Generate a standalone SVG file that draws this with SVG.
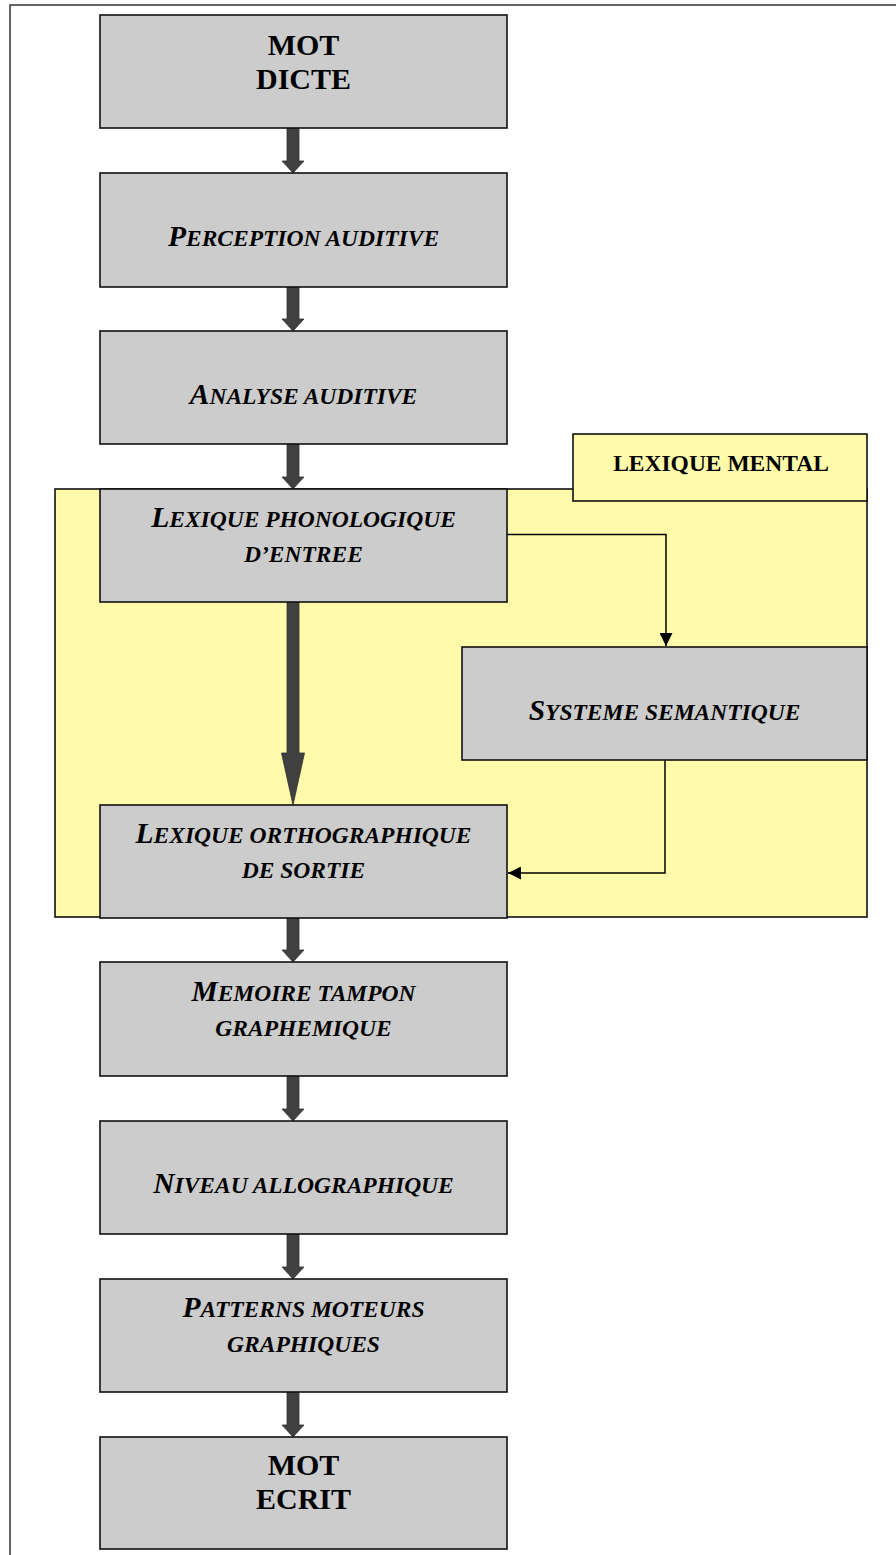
<svg xmlns="http://www.w3.org/2000/svg" width="896" height="1555" viewBox="0 0 896 1555">
<defs>
<style>
.frame{fill:none;stroke:#333;stroke-width:1.5}
.box{fill:#cccccc;stroke:#111;stroke-width:1.6}
.ybox{fill:#fffbaa;stroke:#111;stroke-width:1.6}
.big{font-family:"Liberation Serif","Times New Roman",serif;font-weight:bold;font-size:30px;fill:#000;text-anchor:middle}
.lab{font-family:"Liberation Serif","Times New Roman",serif;font-weight:bold;font-style:italic;font-size:23.5px;fill:#000;text-anchor:middle}
.cap{font-size:29.5px}
.mental{font-family:"Liberation Serif","Times New Roman",serif;font-weight:bold;font-size:23.5px;fill:#000;text-anchor:middle}
.fat{fill:#404040;stroke:#333;stroke-width:0.8}
.thin{fill:none;stroke:#000;stroke-width:1.5}
</style>
<marker id="ah" viewBox="0 0 10 10" refX="10" refY="5" markerWidth="9" markerHeight="9" markerUnits="userSpaceOnUse" orient="auto">
<path d="M0,0 L10,5 L0,10 Z" fill="#000"/>
</marker>
<marker id="ah2" viewBox="0 0 10 10" refX="10" refY="5" markerWidth="13" markerHeight="13" markerUnits="userSpaceOnUse" orient="auto">
<path d="M0,0 L10,5 L0,10 Z" fill="#000"/>
</marker>
</defs>
<rect class="frame" x="10" y="5" width="900" height="1600"/>
<g id="lexique-mental-zone">
<rect class="ybox" x="55" y="489" width="812" height="428"/>
</g>
<g id="lexique-mental-label">
<rect class="ybox" x="573" y="434" width="294" height="67"/>
<text class="mental" x="721" y="471">LEXIQUE MENTAL</text>
</g>
<g id="connectors">
<path class="fat" d="M287,128 H299 V161 H304 L293,173 L282,161 H287 Z"/>
<path class="fat" d="M287,287 H299 V319 H304 L293,331 L282,319 H287 Z"/>
<path class="fat" d="M287,444 H299 V477 H304 L293,489 L282,477 H287 Z"/>
<path class="fat" d="M287,602 H299 V753 H304.5 L293,805 L281.5,753 H287 Z"/>
<path class="fat" d="M287,918 H299 V950 H304 L293,962 L282,950 H287 Z"/>
<path class="fat" d="M287,1076 H299 V1109 H304 L293,1121 L282,1109 H287 Z"/>
<path class="fat" d="M287,1234 H299 V1267 H304 L293,1279 L282,1267 H287 Z"/>
<path class="fat" d="M287,1392 H299 V1425 H304 L293,1437 L282,1425 H287 Z"/>
<path class="thin" d="M507,534.5 H666 V646" marker-end="url(#ah2)"/>
<path class="thin" d="M665,760 V873 H508" marker-end="url(#ah2)"/>
</g>
<g id="mot-dicte">
<rect class="box" x="100" y="15" width="407" height="113"/>
<text class="big" x="303.5" y="55">MOT</text>
<text class="big" x="303.5" y="89">DICTE</text>
</g>
<g id="perception-auditive">
<rect class="box" x="100" y="173" width="407" height="114"/>
<text class="lab" x="303.5" y="246"><tspan class="cap">P</tspan>ERCEPTION AUDITIVE</text>
</g>
<g id="analyse-auditive">
<rect class="box" x="100" y="331" width="407" height="113"/>
<text class="lab" x="303.5" y="404"><tspan class="cap">A</tspan>NALYSE AUDITIVE</text>
</g>
<g id="lexique-phonologique">
<rect class="box" x="100" y="489" width="407" height="113"/>
<text class="lab" x="303.5" y="527"><tspan class="cap">L</tspan>EXIQUE PHONOLOGIQUE</text>
<text class="lab" x="303.5" y="562">D’ENTREE</text>
</g>
<g id="systeme-semantique">
<rect class="box" x="462" y="647" width="405" height="113"/>
<text class="lab" x="664.5" y="720"><tspan class="cap">S</tspan>YSTEME SEMANTIQUE</text>
</g>
<g id="lexique-orthographique">
<rect class="box" x="100" y="805" width="407" height="113"/>
<text class="lab" x="303.5" y="843"><tspan class="cap">L</tspan>EXIQUE ORTHOGRAPHIQUE</text>
<text class="lab" x="303.5" y="878">DE SORTIE</text>
</g>
<g id="memoire-tampon">
<rect class="box" x="100" y="962" width="407" height="114"/>
<text class="lab" x="303.5" y="1001"><tspan class="cap">M</tspan>EMOIRE TAMPON</text>
<text class="lab" x="303.5" y="1036">GRAPHEMIQUE</text>
</g>
<g id="niveau-allographique">
<rect class="box" x="100" y="1121" width="407" height="113"/>
<text class="lab" x="303.5" y="1193"><tspan class="cap">N</tspan>IVEAU ALLOGRAPHIQUE</text>
</g>
<g id="patterns-moteurs">
<rect class="box" x="100" y="1279" width="407" height="113"/>
<text class="lab" x="303.5" y="1317"><tspan class="cap">P</tspan>ATTERNS MOTEURS</text>
<text class="lab" x="303.5" y="1352">GRAPHIQUES</text>
</g>
<g id="mot-ecrit">
<rect class="box" x="100" y="1437" width="407" height="112"/>
<text class="big" x="303.5" y="1475">MOT</text>
<text class="big" x="303.5" y="1509">ECRIT</text>
</g>
</svg>
